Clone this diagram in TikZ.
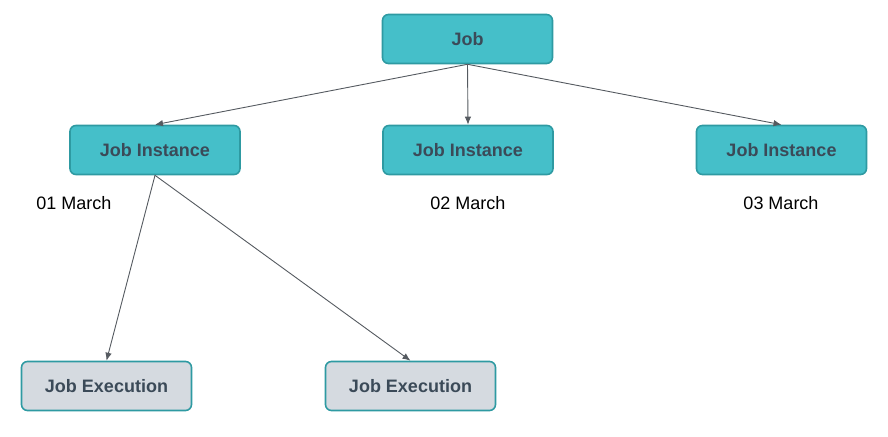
\documentclass[tikz,border=0pt]{standalone}
\usepackage{fontspec}
\setmainfont{Liberation Sans}
\usepackage{tikz}
\usepackage{xcolor}
\usetikzlibrary{arrows.meta}
\definecolor{tealbox}{HTML}{45BFC9}
\definecolor{tealline}{HTML}{2E9AA2}
\definecolor{greybox}{HTML}{D5DAE0}
\definecolor{boxtext}{HTML}{3B4A58}
\definecolor{arrowgrey}{HTML}{555A60}

\begin{document}
\begin{tikzpicture}[x=1pt,y=-1pt,>={Latex[length=8pt,width=6.5pt]},
    jobbox/.style={draw=tealline,line width=1.6pt,fill=tealbox,rounded corners=6pt,
        minimum width=170pt,minimum height=49pt,font=\fontsize{18}{20}\selectfont\bfseries,text=boxtext},
    execbox/.style={jobbox,fill=greybox},
    link/.style={->,draw=arrowgrey,line width=0.9pt}]
    \useasboundingbox (0,0) rectangle (888,436);

    \node[jobbox] (job) at (467.5,39) {Job};

    \node[jobbox] (inst1) at (155,150) {Job Instance};
    \node[jobbox] (inst2) at (468,150) {Job Instance};
    \node[jobbox] (inst3) at (781.5,150) {Job Instance};

    \node[font=\fontsize{18}{20}\selectfont] (day1) at (74,203) {01 March};
    \node[font=\fontsize{18}{20}\selectfont] (day2) at (468,203) {02 March};
    \node[font=\fontsize{18}{20}\selectfont] (day3) at (781,203) {03 March};

    \node[execbox] (exec1) at (106.5,386) {Job Execution};
    \node[execbox] (exec2) at (410.5,386) {Job Execution};

    \foreach \i in {1,2,3}
        \draw[link] (job.south) -- (inst\i.north);
    \foreach \i in {1,2}
        \draw[link] (inst1.south) -- (exec\i.north);
\end{tikzpicture}
\end{document}
